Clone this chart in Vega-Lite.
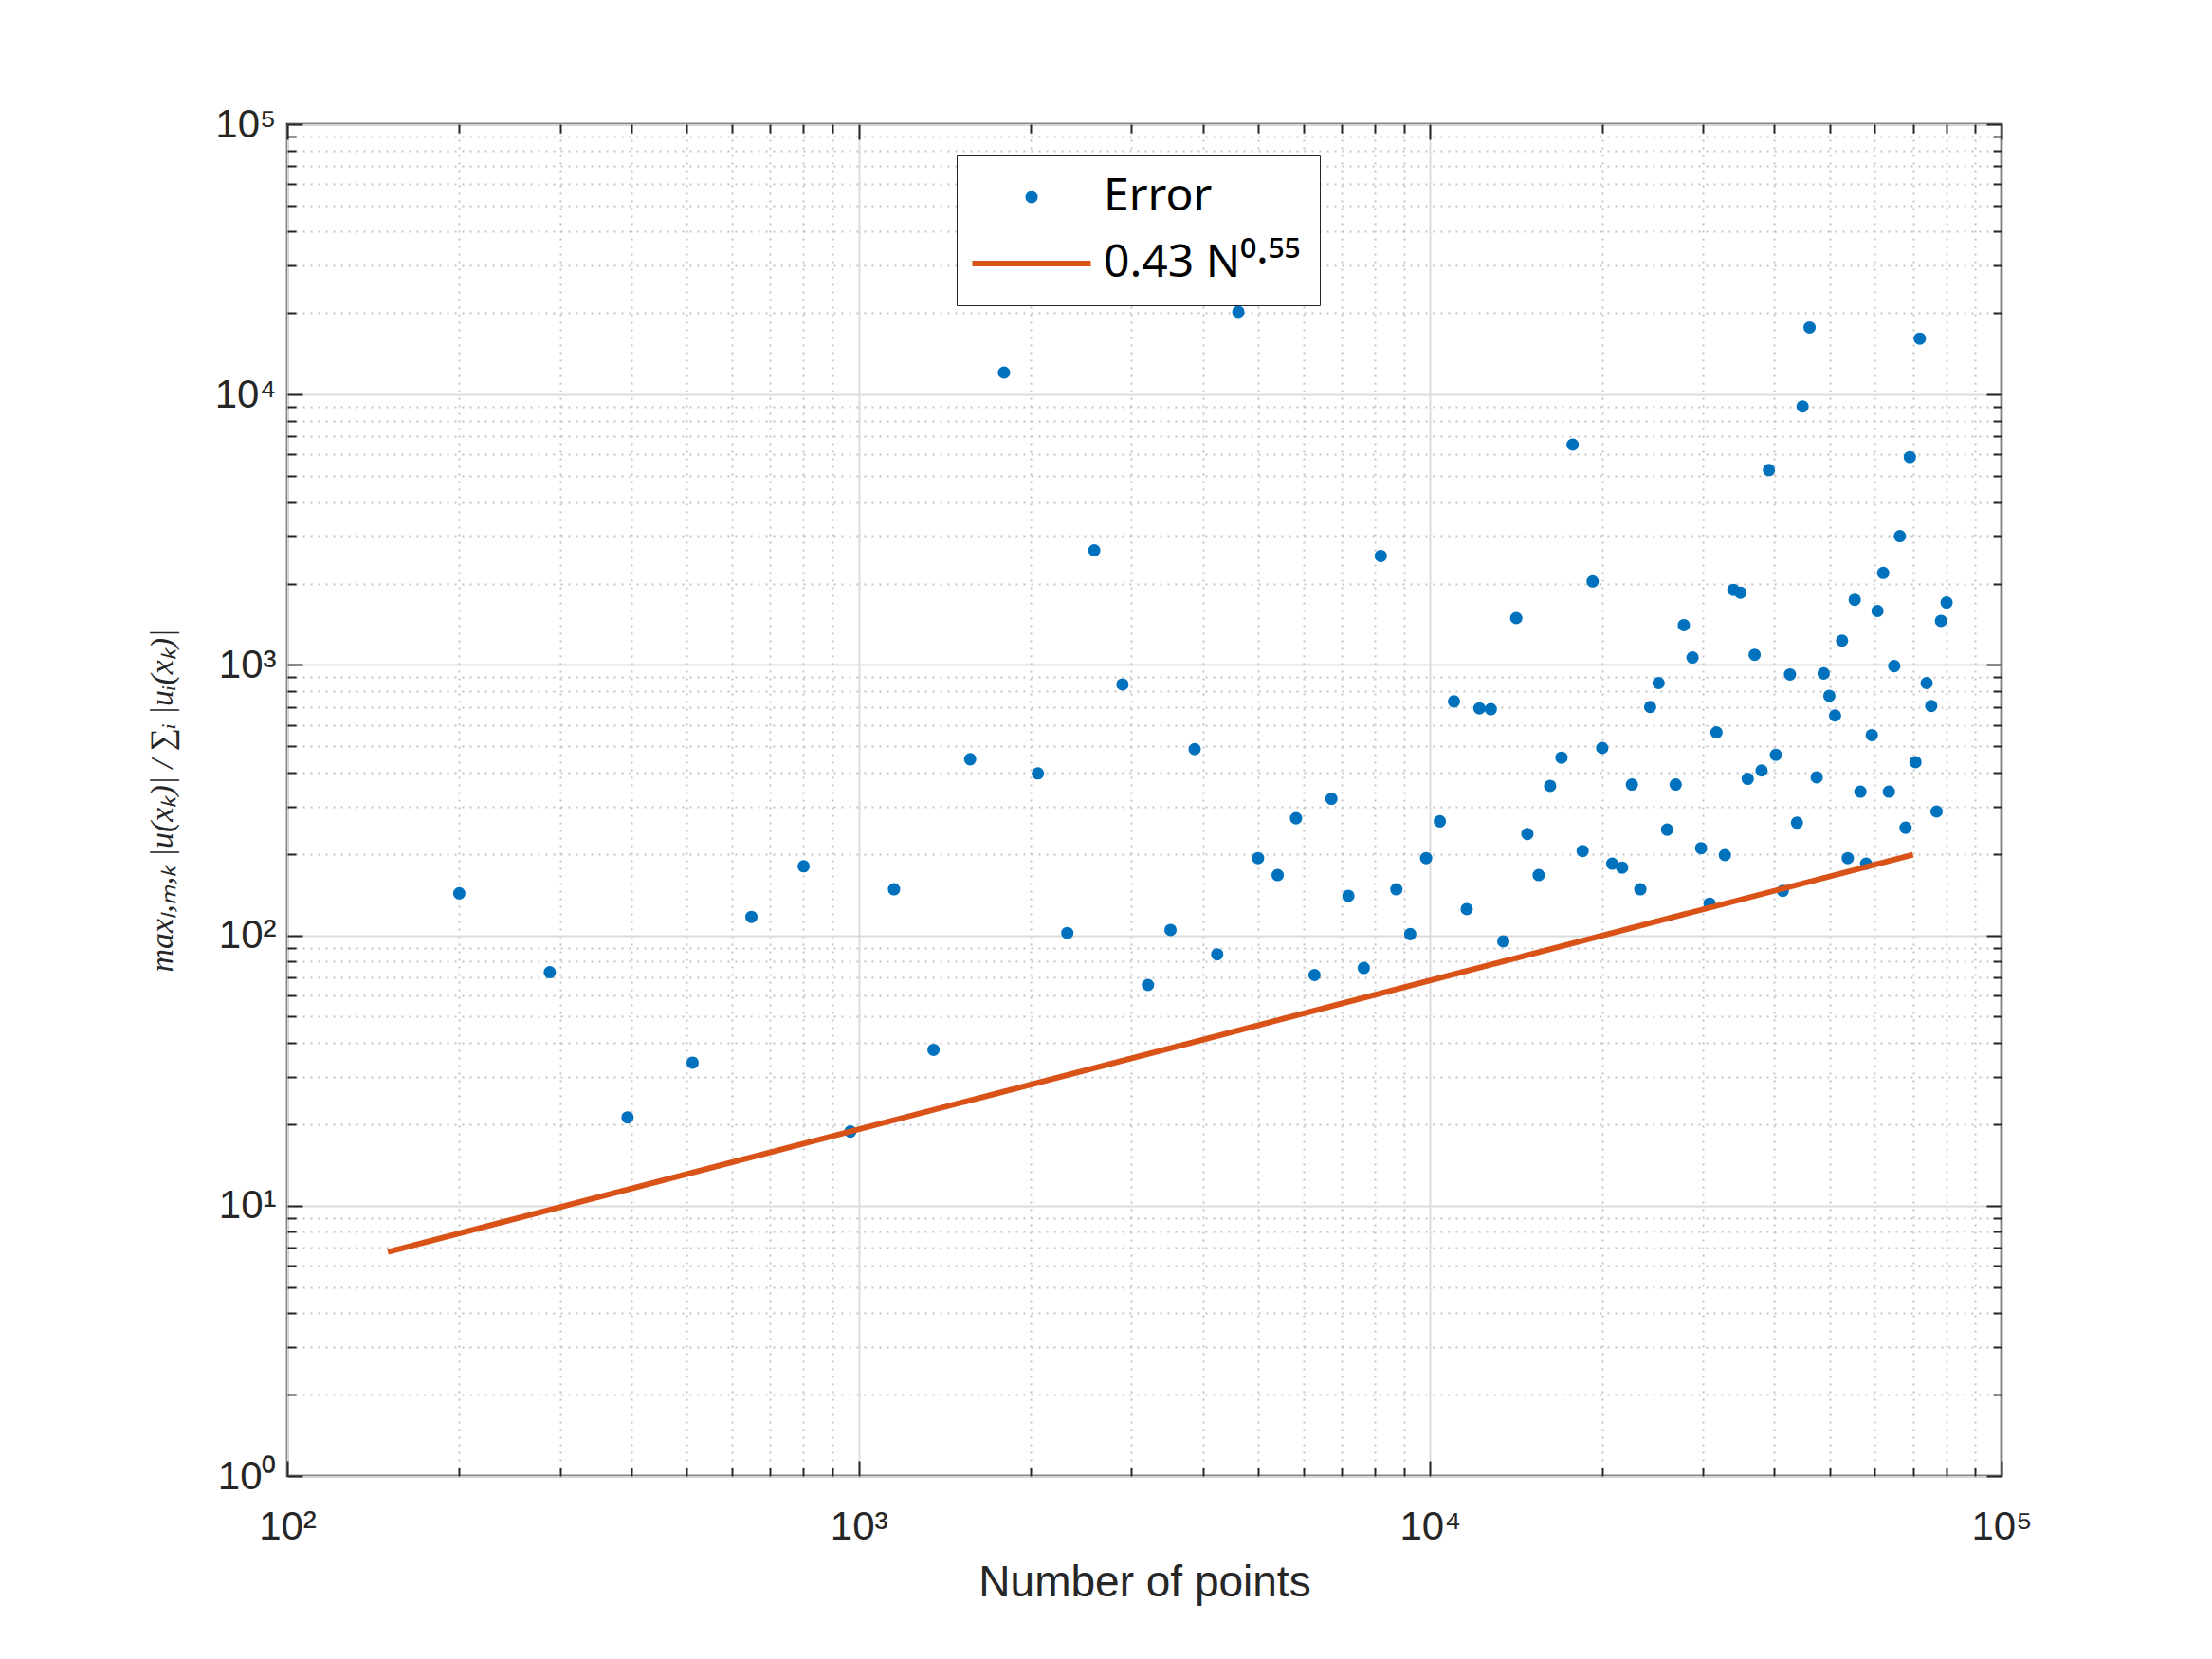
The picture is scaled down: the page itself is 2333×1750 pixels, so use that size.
{
  "$schema": "https://vega.github.io/schema/vega-lite/v6.json",
  "autosize": {"type": "none"},
  "width": 1808,
  "height": 1426,
  "padding": {"left": 303, "top": 131, "right": 222, "bottom": 193},
  "background": "white",
  "config": {
    "view": {"stroke": "#262626", "strokeWidth": 2.5},
    "axis": {"labelFont": "Liberation Sans", "titleFont": "Liberation Sans", "labelColor": "#262626", "titleColor": "#262626", "domain": false}
  },
  "datasets": {
    "pts": [
      {"n": 200, "v": 143}, {"n": 288, "v": 73}, {"n": 394, "v": 21.2}, {"n": 512, "v": 33.8}, {"n": 649, "v": 117},
      {"n": 801, "v": 180}, {"n": 967, "v": 18.8}, {"n": 1153, "v": 148}, {"n": 1352, "v": 37.7}, {"n": 1567, "v": 448},
      {"n": 1796, "v": 12060}, {"n": 2059, "v": 397}, {"n": 2318, "v": 102}, {"n": 2584, "v": 2654}, {"n": 2895, "v": 847},
      {"n": 3208, "v": 65.5}, {"n": 3513, "v": 104.7}, {"n": 3872, "v": 488}, {"n": 4240, "v": 85}, {"n": 4617, "v": 20230},
      {"n": 4999, "v": 193}, {"n": 5410, "v": 167}, {"n": 5826, "v": 271}, {"n": 6276, "v": 71.3}, {"n": 6720, "v": 320},
      {"n": 7194, "v": 140}, {"n": 7655, "v": 75.7}, {"n": 8198, "v": 2530}, {"n": 8730, "v": 148}, {"n": 9230, "v": 101},
      {"n": 9840, "v": 193}, {"n": 10400, "v": 264}, {"n": 11010, "v": 733}, {"n": 11590, "v": 125}, {"n": 12200, "v": 691},
      {"n": 12770, "v": 686}, {"n": 13430, "v": 95}, {"n": 14150, "v": 1490}, {"n": 14800, "v": 237}, {"n": 15490, "v": 167},
      {"n": 16220, "v": 357}, {"n": 16980, "v": 454}, {"n": 17760, "v": 6530}, {"n": 18490, "v": 205}, {"n": 19250, "v": 2037},
      {"n": 20010, "v": 493}, {"n": 20830, "v": 184}, {"n": 21680, "v": 178}, {"n": 22550, "v": 361}, {"n": 23330, "v": 148},
      {"n": 24270, "v": 699}, {"n": 25110, "v": 857}, {"n": 25990, "v": 246}, {"n": 26900, "v": 361}, {"n": 27800, "v": 1403},
      {"n": 28790, "v": 1065}, {"n": 29800, "v": 210}, {"n": 30840, "v": 131}, {"n": 31710, "v": 563}, {"n": 32800, "v": 198},
      {"n": 33950, "v": 1895}, {"n": 34920, "v": 1850}, {"n": 35960, "v": 379}, {"n": 36980, "v": 1090}, {"n": 38030, "v": 407},
      {"n": 39170, "v": 5260}, {"n": 40280, "v": 465}, {"n": 41430, "v": 146}, {"n": 42640, "v": 922}, {"n": 43850, "v": 261},
      {"n": 44860, "v": 9040}, {"n": 46140, "v": 17700}, {"n": 47490, "v": 384}, {"n": 48840, "v": 930}, {"n": 49970, "v": 769},
      {"n": 51130, "v": 650}, {"n": 52600, "v": 1230}, {"n": 53820, "v": 193}, {"n": 55350, "v": 1742}, {"n": 56630, "v": 340},
      {"n": 57950, "v": 184}, {"n": 59290, "v": 550}, {"n": 60670, "v": 1583}, {"n": 62080, "v": 2190}, {"n": 63520, "v": 340},
      {"n": 64900, "v": 990}, {"n": 66400, "v": 2994}, {"n": 67940, "v": 250}, {"n": 69120, "v": 5870}, {"n": 70700, "v": 437},
      {"n": 71940, "v": 16100}, {"n": 73960, "v": 857}, {"n": 75330, "v": 705}, {"n": 76970, "v": 287}, {"n": 78350, "v": 1455},
      {"n": 80150, "v": 1702}
    ],
    "fit": [
      {"n": 150, "v": 6.74},
      {"n": 70000, "v": 198.7}
    ]
  },
  "resolve": {"axis": {"x": "independent", "y": "independent"}},
  "layer": [
    {
      "data": {"name": "pts"},
      "mark": {"type": "circle", "size": 170, "opacity": 1},
      "encoding": {
        "x": {"field": "n", "type": "quantitative",
          "scale": {"type": "log", "domain": [100, 100000], "nice": false},
          "axis": {"orient": "bottom", "title": null, "labels": false, "ticks": true, "tickSize": -9, "tickWidth": 2, "tickColor": "#262626",
            "values": [200,300,400,500,600,700,800,900,2000,3000,4000,5000,6000,7000,8000,9000,20000,30000,40000,50000,60000,70000,80000,90000],
            "grid": true, "gridDash": [2, 6], "gridColor": "#c4c4c4", "gridWidth": 2}},
        "y": {"field": "v", "type": "quantitative",
          "scale": {"type": "log", "domain": [1, 100000], "nice": false},
          "axis": {"orient": "left", "title": null, "labels": false, "ticks": true, "tickSize": -9, "tickWidth": 2, "tickColor": "#262626",
            "values": [2,3,4,5,6,7,8,9,20,30,40,50,60,70,80,90,200,300,400,500,600,700,800,900,2000,3000,4000,5000,6000,7000,8000,9000,20000,30000,40000,50000,60000,70000,80000,90000],
            "grid": true, "gridDash": [2, 6], "gridColor": "#c4c4c4", "gridWidth": 2}},
        "color": {"datum": "Error", "type": "nominal",
          "scale": {"domain": ["Error", "fit"], "range": ["#0072BD", "#D95319"]},
          "legend": {
            "orient": "none", "legendX": 706, "legendY": 33, "direction": "vertical", "title": null,
            "labelFont": "Noto Sans", "labelFontSize": 48, "labelColor": "#000000", "labelLimit": 600,
            "labelExpr": "datum.label === 'fit' ? '0.43 N⁰·⁵⁵' : datum.label",
            "symbolSize": 625, "symbolOffset": 35, "labelOffset": 52,
            "strokeColor": "#262626", "fillColor": "white", "padding": 20, "rowPadding": 22,
            "encoding": {"symbols": {
              "shape": {"value": {"expr": "datum.value === 'Error' ? 'circle' : 'M-5,0H5'"}},
              "size": {"value": {"expr": "datum.value === 'Error' ? 170 : 625"}},
              "fill": {"value": {"expr": "datum.value === 'Error' ? '#0072BD' : 'transparent'"}},
              "stroke": {"value": {"expr": "datum.value === 'Error' ? 'transparent' : '#D95319'"}},
              "strokeWidth": {"value": {"expr": "datum.value === 'Error' ? 0 : 6"}},
              "opacity": {"value": 1}
            }}
          }}
      }
    },
    {
      "data": {"name": "fit"},
      "mark": {"type": "line", "strokeWidth": 6},
      "encoding": {
        "x": {"field": "n", "type": "quantitative",
          "axis": {"orient": "bottom", "title": null, "labels": false, "ticks": true, "tickSize": -16, "tickWidth": 2, "tickColor": "#262626",
            "values": [100, 1000, 10000, 100000], "grid": true, "gridColor": "#dcdcdc", "gridWidth": 2}},
        "y": {"field": "v", "type": "quantitative",
          "axis": {"orient": "left", "title": null, "labels": false, "ticks": true, "tickSize": -16, "tickWidth": 2, "tickColor": "#262626",
            "values": [1, 10, 100, 1000, 10000, 100000], "grid": true, "gridColor": "#dcdcdc", "gridWidth": 2}},
        "color": {"datum": "fit", "type": "nominal"}
      }
    },
    {
      "data": {"name": "fit"},
      "mark": {"type": "point", "opacity": 0},
      "encoding": {
        "x": {"field": "n", "type": "quantitative",
          "axis": {"orient": "bottom", "title": "Number of points", "titleFontSize": 46, "titleFontWeight": "normal", "titlePadding": 16,
            "ticks": false, "grid": false, "values": [100, 1000, 10000, 100000],
            "labelExpr": "'10' + ['⁰','¹','²','³','⁴','⁵'][round(log(datum.value)/LN10)]",
            "labelFontSize": 42, "labelPadding": 33, "labelFlush": false, "labelOverlap": false}},
        "y": {"field": "v", "type": "quantitative",
          "axis": {"orient": "left", "title": "maxₗ,ₘ,ₖ |u(xₖ)| / ∑ᵢ |uᵢ(xₖ)|", "titleFont": "Liberation Serif", "titleFontStyle": "italic", "titleFontSize": 34, "titleFontWeight": "normal", "titlePadding": 38,
            "ticks": false, "grid": false, "values": [1, 10, 100, 1000, 10000, 100000],
            "labelExpr": "'10' + ['⁰','¹','²','³','⁴','⁵'][round(log(datum.value)/LN10)]",
            "labelFontSize": 42, "labelPadding": 12, "labelFlush": false, "labelOverlap": false, "labelDy": 10}}
      }
    },
    {
      "data": {"name": "fit"},
      "mark": {"type": "point", "opacity": 0},
      "encoding": {
        "x": {"field": "n", "type": "quantitative",
          "axis": {"orient": "top", "title": null, "labels": false, "ticks": true, "tickSize": -16, "tickWidth": 2, "tickColor": "#262626",
            "values": [100, 1000, 10000, 100000], "grid": false}},
        "y": {"field": "v", "type": "quantitative",
          "axis": {"orient": "right", "title": null, "labels": false, "ticks": true, "tickSize": -16, "tickWidth": 2, "tickColor": "#262626",
            "values": [1, 10, 100, 1000, 10000, 100000], "grid": false}}
      }
    },
    {
      "data": {"name": "fit"},
      "mark": {"type": "point", "opacity": 0},
      "encoding": {
        "x": {"field": "n", "type": "quantitative",
          "axis": {"orient": "top", "title": null, "labels": false, "ticks": true, "tickSize": -9, "tickWidth": 2, "tickColor": "#262626",
            "values": [200,300,400,500,600,700,800,900,2000,3000,4000,5000,6000,7000,8000,9000,20000,30000,40000,50000,60000,70000,80000,90000], "grid": false}},
        "y": {"field": "v", "type": "quantitative",
          "axis": {"orient": "right", "title": null, "labels": false, "ticks": true, "tickSize": -9, "tickWidth": 2, "tickColor": "#262626",
            "values": [2,3,4,5,6,7,8,9,20,30,40,50,60,70,80,90,200,300,400,500,600,700,800,900,2000,3000,4000,5000,6000,7000,8000,9000,20000,30000,40000,50000,60000,70000,80000,90000], "grid": false}}
      }
    }
  ]
}
